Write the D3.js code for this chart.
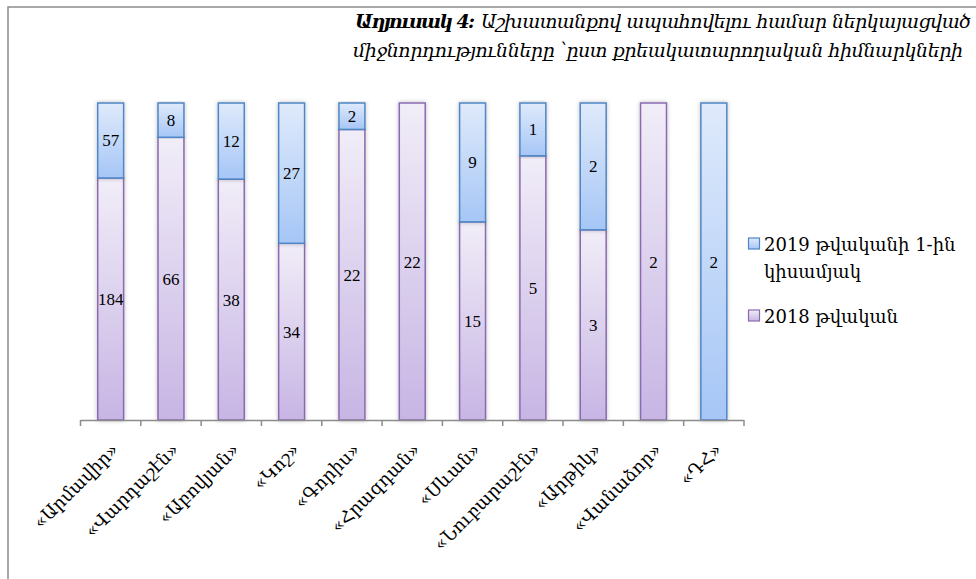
<!DOCTYPE html>
<html>
<head>
<meta charset="utf-8">
<script src="https://cdn.jsdelivr.net/npm/d3@7"></script>
<style>
    body { margin: 0; background: #fff; }
    svg text { font-family: "DejaVu Serif", "Liberation Serif", serif; fill: #000; }
</style>
</head>
<body>
<div id="chart"></div>
<script>
var categories = ['«Արմավիր»', '«Վարդաշէն»', '«Աբովյան»', '«Կոշ»', '«Գորիս»', '«Հրազդան»',
    '«Սևան»', '«Նուբարաշէն»', '«Արթիկ»', '«Վանաձոր»', '«ԴՀ»'];
var values2018 = [184, 66, 38, 34, 22, 22, 15, 5, 3, 2, 0];
var values2019 = [57, 8, 12, 27, 2, 0, 9, 1, 2, 0, 2];
var seriesNames = ['2019 թվականի 1-ին|կիսամյակ', '2018 թվական'];

(function()
{
    var width = 976, height = 579,
        margin = { left : 80.5, right : 232, top : 103, bottom : 159 };

    var svg = d3.select('#chart').append('svg')
        .attr('width', width).attr('height', height);

    var defs = svg.append('defs');

    var grad = function(id, top, bottom)
    {
        var g = defs.append('linearGradient').attr('id', id)
            .attr('x1', 0).attr('y1', 0).attr('x2', 0).attr('y2', 1);
        g.append('stop').attr('offset', '0%').attr('stop-color', top);
        g.append('stop').attr('offset', '100%').attr('stop-color', bottom);
    };
    grad('gBlue', '#dfeafb', '#a6c6f6');
    grad('gPurple', '#f1edf8', '#c7b5e4');

    var sh = defs.append('filter').attr('id', 'shadow')
        .attr('x', '-30%').attr('y', '-5%').attr('width', '160%').attr('height', '110%');
    sh.append('feDropShadow').attr('dx', 0).attr('dy', 0).attr('stdDeviation', 2)
        .attr('flood-color', '#000').attr('flood-opacity', 0.25);

    // outer frame (cut off at right and bottom)
    svg.append('rect').attr('x', 8).attr('y', 7).attr('width', 1000).attr('height', 600)
        .attr('fill', 'none').attr('stroke', '#8c8c8c').attr('stroke-width', 1.5);

    var x = d3.scaleBand().domain(categories)
        .range([margin.left, width - margin.right]).paddingInner(0.57).paddingOuter(0.285);
    var y = d3.scaleLinear().domain([0, 1]).range([height - margin.bottom, margin.top]);

    var rows = categories.map(function(c, i)
    {
        return { cat : c, s2018 : values2018[i], s2019 : values2019[i] };
    });
    var stack = d3.stack().keys(['s2018', 's2019']).offset(d3.stackOffsetExpand)(rows);

    var fills = { s2018 : 'url(#gPurple)', s2019 : 'url(#gBlue)' },
        strokes = { s2018 : '#8a6bb0', s2019 : '#4f86c6' };

    var layer = svg.selectAll('g.layer').data(stack).enter().append('g').attr('class', 'layer');

    layer.selectAll('rect').data(function(d)
    {
        return d.map(function(v) { v.key = d.key; return v; });
    }).enter().filter(function(d) { return d[1] - d[0] > 0; })
        .append('rect')
        .attr('x', function(d) { return x(d.data.cat); })
        .attr('width', x.bandwidth())
        .attr('y', function(d) { return y(d[1]); })
        .attr('height', function(d) { return y(d[0]) - y(d[1]); })
        .attr('fill', function(d) { return fills[d.key]; })
        .attr('stroke', function(d) { return strokes[d.key]; })
        .attr('stroke-width', 1.5)
        .attr('filter', 'url(#shadow)');

    layer.selectAll('text').data(function(d) { return d; })
        .enter().filter(function(d) { return d[1] - d[0] > 0; })
        .append('text')
        .attr('x', function(d) { return x(d.data.cat) + x.bandwidth() / 2; })
        .attr('y', function(d) { return (y(d[0]) + y(d[1])) / 2 + 6; })
        .attr('text-anchor', 'middle')
        .style('font-family', '"Liberation Serif", serif')
        .style('font-size', '17px')
        .text(function(d) { return d.data[d.key]; });

    // x axis with ticks between categories
    var base = height - margin.bottom;
    var axis = svg.append('g');
    axis.append('line').attr('x1', margin.left).attr('x2', width - margin.right)
        .attr('y1', base + 0.5).attr('y2', base + 0.5)
        .attr('stroke', '#8c8c8c').attr('stroke-width', 1.5);
    var step = x.step();
    axis.selectAll('line.tick').data(d3.range(categories.length + 1)).enter().append('line')
        .attr('class', 'tick')
        .attr('x1', function(i) { return margin.left + i * step; })
        .attr('x2', function(i) { return margin.left + i * step; })
        .attr('y1', base).attr('y2', base + 6)
        .attr('stroke', '#8c8c8c').attr('stroke-width', 1.5);

    axis.selectAll('text.cat').data(categories).enter().append('text')
        .attr('class', 'cat')
        .attr('text-anchor', 'end')
        .attr('transform', function(d)
        {
            return 'translate(' + (x(d) + x.bandwidth() / 2 + 9) + ',' + (base + 31) + ') rotate(-45)';
        })
        .style('font-size', '18px')
        .text(function(d) { return d; });

    // legend
    var legend = svg.append('g').attr('transform', 'translate(748,0)');
    var items = [
        { name : seriesNames[0], fill : 'url(#gBlue)', stroke : strokes.s2019, y : 245 },
        { name : seriesNames[1], fill : 'url(#gPurple)', stroke : strokes.s2018, y : 317 }
    ];
    var li = legend.selectAll('g').data(items).enter().append('g');
    li.append('rect').attr('x', 0.5).attr('y', function(d) { return d.y - 7; })
        .attr('width', 11).attr('height', 11)
        .attr('fill', function(d) { return d.fill; })
        .attr('stroke', function(d) { return d.stroke; }).attr('stroke-width', 1.2);
    li.each(function(d)
    {
        var t = d3.select(this).append('text').attr('x', 16).attr('y', d.y + 6)
            .style('font-size', '18px');
        d.name.split('|').forEach(function(line, i)
        {
            t.append('tspan').attr('x', 16).attr('dy', i ? 27 : 0).text(line);
        });
    });

    // title
    svg.append('text').attr('x', 355).attr('y', 28)
        .attr('textLength', 120)
        .style('font-size', '19px').style('font-style', 'italic').style('font-weight', 'bold')
        .text('Աղյուսակ 4:');
    svg.append('text').attr('x', 481).attr('y', 28)
        .attr('textLength', 490)
        .style('font-size', '19px').style('font-style', 'italic')
        .text('Աշխատանքով ապահովելու համար ներկայացված');
    svg.append('text').attr('x', 353).attr('y', 57)
        .attr('textLength', 610)
        .style('font-size', '19px').style('font-style', 'italic')
        .text('միջնորդությունները ՝ըստ քրեակատարողական հիմնարկների');
})();
</script>
</body>
</html>
